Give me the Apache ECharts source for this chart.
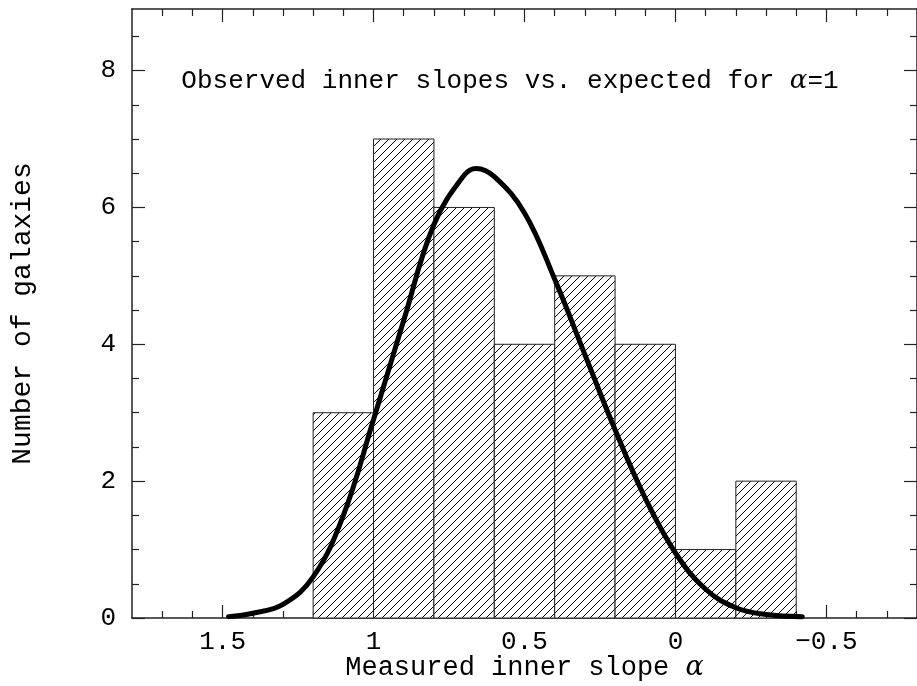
<!DOCTYPE html>
<html><head><meta charset="utf-8">
<script src="https://cdn.jsdelivr.net/npm/echarts@6/dist/echarts.min.js"></script>
<style>html,body{margin:0;padding:0;background:#fff}#c{width:917px;height:686px}</style>
</head><body><div id="c"></div>
<script>
// Histogram bins (measured inner slope alpha)
const binLow  = [1.2, 1.0, 0.8, 0.6, 0.4, 0.2, 0.0, -0.2];
const binHigh = [1.0, 0.8, 0.6, 0.4, 0.2, 0.0, -0.2, -0.4];
const counts  = [3, 7, 6, 4, 5, 4, 1, 2];
// Expected curve for alpha = 1
const curveX = [1.48, 1.4, 1.3, 1.2, 1.1, 1.0, 0.9, 0.8, 0.7, 0.66, 0.6, 0.5, 0.4, 0.3, 0.2, 0.1, 0.0, -0.1, -0.2, -0.3, -0.42];
const curveY = [0.02, 0.07, 0.2, 0.6, 1.5, 2.9, 4.35, 5.75, 6.47, 6.57, 6.45, 5.92, 4.95, 3.85, 2.75, 1.75, 0.95, 0.42, 0.15, 0.05, 0.02];
// Axis ticks
const xMajorTicks = [1.5, 1, 0.5, 0, -0.5];
const xMinorTicks = [1.7,1.6,1.4,1.3,1.2,1.1,0.9,0.8,0.7,0.6,0.4,0.3,0.2,0.1,-0.1,-0.2,-0.3,-0.4,-0.6,-0.7];
const yMajorTicks = [0, 2, 4, 6, 8];
const yMinorTicks = [0.5,1,1.5,2.5,3,3.5,4.5,5,5.5,6.5,7,7.5,8.5];

// hatch pattern
const pc = document.createElement('canvas');
const S = 8;
pc.width = S; pc.height = S;
const g = pc.getContext('2d');
g.fillStyle = '#fff'; g.fillRect(0,0,S,S);
g.strokeStyle = '#000'; g.lineWidth = 1;
g.beginPath();
g.moveTo(-1, S+1); g.lineTo(S+1, -1);
g.moveTo(-1-S, S+1); g.lineTo(1, -1);
g.moveTo(S-1, S+1); g.lineTo(2*S+1, -1);
g.stroke();
const hatch = {image: pc, repeat: 'repeat'};

const FONT = 'Liberation Mono';
const SERIF = 'DejaVu Serif';
const axisCol = '#222';
function fmt(v){ return (v < 0 ? '\u2212' : '') + String(Math.abs(v)); }

const chart = echarts.init(document.getElementById('c'));
const xBase = {type:'value', min:-0.8, max:1.8, inverse:true, splitLine:{show:false}};
const yBase = {type:'value', min:0, max:8.9, splitLine:{show:false}};
const line = {show:true, onZero:false, lineStyle:{color:axisCol, width:1.5}};
const noLine = {show:false, onZero:false};
chart.setOption({
  animation:false,
  backgroundColor:'#fff',
  grid:{left:132, top:9, right:0, bottom:68, containLabel:false, outerBoundsMode:'none'},
  title:{
    text:'Observed inner slopes vs. expected for {a|α}{b|=1}',
    left:505, top:63, textAlign:'center',
    textStyle:{fontFamily:FONT, fontSize:26, fontWeight:'normal', color:'#000',
      rich:{a:{fontFamily:SERIF, fontStyle:'italic', fontSize:26, color:'#000'}, b:{fontFamily:FONT, fontSize:26, color:'#000'}}}
  },
  xAxis:[
    Object.assign({}, xBase, {position:'bottom',
      name:'Measured inner slope {a|α}', nameLocation:'middle', nameGap:36, nameMoveOverlap:false,
      nameTextStyle:{fontFamily:FONT, fontSize:27, color:'#000', rich:{a:{fontFamily:SERIF, fontStyle:'italic', fontSize:27, color:'#000'}}},
      axisLine:line,
      axisTick:{show:true, inside:true, length:13, customValues:xMajorTicks, lineStyle:{color:axisCol, width:1.2}},
      axisLabel:{show:true, customValues:xMajorTicks, formatter:fmt, margin:11, fontFamily:FONT, fontSize:26, color:'#000'}}),
    Object.assign({}, xBase, {position:'bottom',
      axisLine:noLine,
      axisTick:{show:true, inside:true, length:7, customValues:xMinorTicks, lineStyle:{color:axisCol, width:1.2}},
      axisLabel:{show:false}}),
    Object.assign({}, xBase, {position:'top',
      axisLine:line,
      axisTick:{show:true, inside:true, length:13, customValues:xMajorTicks, lineStyle:{color:axisCol, width:1.2}},
      axisLabel:{show:false}}),
    Object.assign({}, xBase, {position:'top',
      axisLine:noLine,
      axisTick:{show:true, inside:true, length:7, customValues:xMinorTicks, lineStyle:{color:axisCol, width:1.2}},
      axisLabel:{show:false}})
  ],
  yAxis:[
    Object.assign({}, yBase, {position:'left',
      name:'Number of galaxies', nameLocation:'middle', nameGap:95, nameRotate:90, nameMoveOverlap:false,
      nameTextStyle:{fontFamily:FONT, fontSize:28, color:'#000'},
      axisLine:line,
      axisTick:{show:true, inside:true, length:13, customValues:yMajorTicks, lineStyle:{color:axisCol, width:1.2}},
      axisLabel:{show:true, customValues:yMajorTicks, margin:16, fontFamily:FONT, fontSize:26, color:'#000'}}),
    Object.assign({}, yBase, {position:'left',
      axisLine:noLine,
      axisTick:{show:true, inside:true, length:7, customValues:yMinorTicks, lineStyle:{color:axisCol, width:1.2}},
      axisLabel:{show:false}}),
    Object.assign({}, yBase, {position:'right',
      axisLine:line,
      axisTick:{show:true, inside:true, length:13, customValues:yMajorTicks, lineStyle:{color:axisCol, width:1.2}},
      axisLabel:{show:false}}),
    Object.assign({}, yBase, {position:'right',
      axisLine:noLine,
      axisTick:{show:true, inside:true, length:7, customValues:yMinorTicks, lineStyle:{color:axisCol, width:1.2}},
      axisLabel:{show:false}})
  ],
  series:[
    {
      type:'custom', xAxisIndex:0, yAxisIndex:0,
      data: counts.map((c,i)=>[binLow[i], binHigh[i], c]),
      renderItem:function(params, api){
        const p0 = api.coord([api.value(0), api.value(2)]);
        const p1 = api.coord([api.value(1), 0]);
        const x = Math.min(p0[0], p1[0]), w = Math.abs(p1[0]-p0[0]);
        return {type:'rect', shape:{x:x, y:p0[1], width:w, height:p1[1]-p0[1]},
          style:{fill:hatch, stroke:'#222', lineWidth:1}};
      },
      z:2
    },
    {
      type:'line', xAxisIndex:0, yAxisIndex:0,
      data: curveX.map((x,i)=>[x, curveY[i]]),
      smooth:0.4, symbol:'none',
      lineStyle:{color:'#000', width:5, cap:'round'},
      z:3
    }
  ]
});
</script></body></html>
